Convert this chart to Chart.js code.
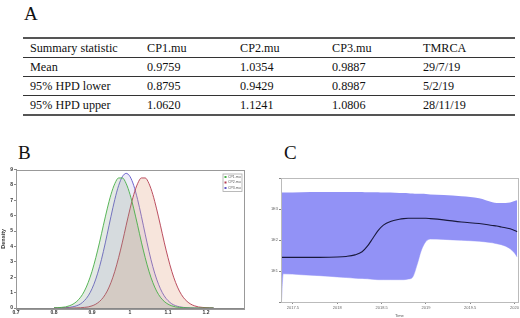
<!DOCTYPE html>
<html><head><meta charset="utf-8">
<script src="https://cdn.jsdelivr.net/npm/chart.js@4/dist/chart.umd.min.js"></script>
<style>
html,body{margin:0;padding:0;background:#fff;}
body{width:520px;height:318px;position:relative;overflow:hidden;color:#111;}
.serif{font-family:"Liberation Serif","Times New Roman",Times,Tinos,"DejaVu Serif",serif;}
.lbl{position:absolute;font-size:19px;line-height:19px;}
#tbl{position:absolute;left:23px;top:37px;width:492px;border-top:2px solid #555;border-bottom:2px solid #555;}
.row{display:flex;height:18px;line-height:18px;border-bottom:1px solid #333;font-size:12.2px;}
.row:last-child{border-bottom:none;}
.cell{box-sizing:border-box;padding-left:7px;white-space:nowrap;}
.box{position:absolute;}
</style></head>
<body>
<div class="lbl serif" style="left:24px;top:4px;">A</div>
<div class="lbl serif" style="left:18px;top:143px;">B</div>
<div class="lbl serif" style="left:284px;top:143px;">C</div>
<div id="tbl" class="serif"></div>
<div class="box" style="left:0;top:165px;width:250px;height:153px;"><canvas id="cB"></canvas></div>
<div class="box" style="left:262px;top:170px;width:258px;height:148px;"><canvas id="cC"></canvas></div>
<script>
// ---------- Panel A table ----------
const tableHeader = ["Summary statistic", "CP1.mu", "CP2.mu", "CP3.mu", "TMRCA"];
const rowLabels = ["Mean", "95% HPD lower", "95% HPD upper"];
const cp1Stats = ["0.9759", "0.8795", "1.0620"];
const cp2Stats = ["1.0354", "0.9429", "1.1241"];
const cp3Stats = ["0.9887", "0.8987", "1.0806"];
const tmrcaStats = ["29/7/19", "5/2/19", "28/11/19"];

// ---------- Panel B density ----------
const densityX = [0.80,0.81,0.82,0.83,0.84,0.85,0.86,0.87,0.88,0.89,0.90,0.91,0.92,0.93,0.94,0.95,0.96,0.97,0.98,0.99,1.00,1.01,1.02,1.03,1.04,1.05,1.06,1.07,1.08,1.09,1.10,1.11,1.12,1.13,1.14,1.15,1.16,1.17,1.18,1.19,1.20,1.21,1.22];
const cp1Density = [0.01,0.02,0.04,0.07,0.14,0.25,0.43,0.70,1.10,1.66,2.38,3.27,4.28,5.38,6.44,7.38,8.08,8.45,8.45,8.08,7.38,6.44,5.38,4.28,3.27,2.38,1.66,1.10,0.70,0.43,0.25,0.14,0.07,0.04,0.02,0.01,0,0,0,0,0,0,0];
const cp2Density = [0,0,0,0,0,0,0.01,0.02,0.04,0.07,0.14,0.25,0.43,0.70,1.10,1.66,2.38,3.27,4.28,5.38,6.44,7.38,8.08,8.45,8.45,8.08,7.38,6.44,5.38,4.28,3.27,2.38,1.66,1.10,0.70,0.43,0.25,0.14,0.07,0.04,0.02,0.01,0];
const cp3Density = [0,0,0.01,0.02,0.04,0.08,0.15,0.27,0.48,0.79,1.25,1.88,2.69,3.68,4.80,5.96,7.05,7.95,8.54,8.75,8.54,7.95,7.05,5.96,4.80,3.68,2.69,1.88,1.25,0.79,0.48,0.27,0.15,0.08,0.04,0.02,0.01,0,0,0,0,0,0];
const densityLabels = ["CP1.mu", "CP2.mu", "CP3.mu"];
const densityXTicks = [0.7, 0.8, 0.9, 1.0, 1.1, 1.2];

// ---------- Panel C skyline ----------
const skyYears = [2017.37,2017.39,2017.6,2017.8,2018.0,2018.1,2018.2,2018.28,2018.34,2018.4,2018.46,2018.52,2018.6,2018.7,2018.75,2018.8,2018.85,2018.9,2018.95,2019.0,2019.05,2019.2,2019.4,2019.6,2019.75,2019.8,2019.85,2019.95,2020.0,2020.03];
const skyMedian = [1.44,1.44,1.44,1.44,1.45,1.47,1.52,1.62,1.80,2.05,2.30,2.48,2.60,2.67,2.69,2.70,2.70,2.70,2.70,2.70,2.69,2.65,2.58,2.53,2.47,2.45,2.42,2.36,2.31,2.27];
const skyUpper = [3.53,3.53,3.54,3.55,3.55,3.55,3.55,3.55,3.54,3.54,3.54,3.53,3.53,3.52,3.52,3.51,3.50,3.49,3.49,3.48,3.47,3.45,3.41,3.35,3.22,3.19,3.19,3.21,3.26,3.28];
const skyLower = [0.00,0.91,0.88,0.85,0.81,0.79,0.77,0.76,0.75,0.73,0.72,0.72,0.72,0.72,0.72,0.74,0.80,1.20,1.68,1.95,2.03,2.02,1.99,1.96,1.91,1.88,1.85,1.72,1.58,1.45];
const skyXTicks = [2017.5, 2018, 2018.5, 2019, 2019.5, 2020];
const skyXTickLabels = ["2017.5", "2018", "2018.5", "2019", "2019.5", "2020"];
const skyYTicks = [0, 1, 2, 3, 4];
const skyYTickLabels = ["", "1E1", "1E2", "1E3", ""];
const skyXTitle = "Time";

// build table
(function(){
  const t = document.getElementById('tbl');
  const widths = [117, 93, 92, 91, 99];
  const rows = [tableHeader].concat(rowLabels.map((r,i)=>[r, cp1Stats[i], cp2Stats[i], cp3Stats[i], tmrcaStats[i]]));
  rows.forEach(r=>{
    const d = document.createElement('div'); d.className='row';
    r.forEach((c,j)=>{const s=document.createElement('div'); s.className='cell'; s.style.width=widths[j]+'px'; s.textContent=c; d.appendChild(s);});
    t.appendChild(d);
  });
})();

const frame = {
  id:'frame',
  afterDraw(chart, args, opts){
    const a = chart.chartArea, ctx = chart.ctx;
    ctx.save(); ctx.strokeStyle = opts.color || '#999'; ctx.lineWidth = 1;
    ctx.strokeRect(Math.round(a.left)+0.5, Math.round(a.top)+0.5, Math.round(a.right-a.left), Math.round(a.bottom-a.top));
    ctx.restore();
  }
};

const boxLegend = {
  id:'boxLegend',
  afterDraw(chart){
    const a = chart.chartArea, ctx = chart.ctx;
    const w = 19, h = 17.5, x = a.right - 2.5 - w, y = a.top + 4;
    ctx.save();
    ctx.fillStyle = '#fff'; ctx.fillRect(x, y, w, h);
    ctx.strokeStyle = '#aaa'; ctx.lineWidth = 0.8; ctx.strokeRect(x+0.5, y+0.5, w, h);
    ctx.font = '3.5px "Liberation Sans", Arial, sans-serif'; ctx.textBaseline = 'middle';
    chart.data.datasets.forEach((ds, i)=>{
      const cy = y + 3.5 + i*5.5;
      ctx.fillStyle = ds.borderColor; ctx.fillRect(x+2, cy-1, 2, 2);
      ctx.fillStyle = '#555'; ctx.fillText(ds.label, x+5.5, cy);
    });
    ctx.restore();
  }
};

const tickFontB = {family:'"Liberation Sans", Arial, sans-serif', size:5, weight:'bold'};
const mk = (ys)=>densityX.map((x,i)=>({x, y: ys[i]}));
new Chart(document.getElementById('cB'), {
  type:'line',
  data:{datasets:[
    {label:densityLabels[0], data:mk(cp1Density), borderColor:'rgb(70,175,70)', backgroundColor:'rgba(130,160,130,0.22)', fill:'origin', borderWidth:0.9, pointRadius:0, cubicInterpolationMode:'monotone'},
    {label:densityLabels[1], data:mk(cp2Density), borderColor:'rgb(180,60,80)', backgroundColor:'rgba(225,160,130,0.28)', fill:'origin', borderWidth:0.9, pointRadius:0, cubicInterpolationMode:'monotone'},
    {label:densityLabels[2], data:mk(cp3Density), borderColor:'rgb(95,85,200)', backgroundColor:'rgba(150,140,210,0.16)', fill:'origin', borderWidth:0.9, pointRadius:0, cubicInterpolationMode:'monotone'}
  ]},
  options:{
    responsive:true, maintainAspectRatio:false, animation:false, devicePixelRatio:1,
    layout:{padding:{top:4.5, right:6, left:0, bottom:0}},
    plugins:{legend:{display:false}, tooltip:{enabled:false}, frame:{color:'#999'}},
    scales:{
      x:{type:'linear', min:0.7, max:1.3,
         afterBuildTicks(s){ s.ticks = densityXTicks.map(v=>({value:v})); },
         afterFit(s){ s.height = 10; },
         ticks:{font:tickFontB, color:'#333', padding:0, maxRotation:0, autoSkip:false, callback:(v)=>String(+v.toFixed(1))},
         grid:{drawOnChartArea:false, tickLength:2, color:'#888'}, border:{color:'#888'}},
      y:{type:'linear', min:0, max:9,
         ticks:{stepSize:1, font:tickFontB, color:'#333', padding:1},
         afterFit(s){ s.width = 16; },
         title:{display:true, text:'Density', font:{family:'"Liberation Sans", Arial, sans-serif', size:5.5, weight:'bold'}, color:'#333', padding:{top:0,bottom:1}},
         grid:{drawOnChartArea:false, tickLength:2, color:'#888'}, border:{color:'#888'}}
    }
  },
  plugins:[frame, boxLegend]
});

const tickFontC = {family:'"Liberation Sans", Arial, sans-serif', size:4};
const mkC = (ys)=>skyYears.map((x,i)=>({x, y: ys[i]}));
new Chart(document.getElementById('cC'), {
  type:'line',
  data:{datasets:[
    {label:'median', order:0, data:mkC(skyMedian), borderColor:'rgb(25,25,60)', borderWidth:1.1, fill:false, pointRadius:0, cubicInterpolationMode:'monotone'},
    {label:'upper', order:1, data:mkC(skyUpper), borderColor:'rgba(0,0,0,0)', borderWidth:0, backgroundColor:'rgb(146,146,246)', fill:'+1', pointRadius:0, cubicInterpolationMode:'monotone'},
    {label:'lower', order:2, data:mkC(skyLower), borderColor:'rgb(146,146,246)', borderWidth:0.5, fill:false, pointRadius:0, cubicInterpolationMode:'monotone'}
  ]},
  options:{
    responsive:true, maintainAspectRatio:false, animation:false, devicePixelRatio:1,
    layout:{padding:{top:8, right:1, left:0, bottom:0}},
    plugins:{legend:{display:false}, tooltip:{enabled:false}, frame:{color:'#bbb'}},
    scales:{
      x:{type:'linear', min:2017.365, max:2020.035,
         afterBuildTicks(s){ s.ticks = skyXTicks.map(v=>({value:v})); },
         afterFit(s){ s.height = 16; },
         ticks:{font:tickFontC, color:'#666', padding:1, maxRotation:0, autoSkip:false, callback:(v,i)=>skyXTickLabels[i]},
         title:{display:true, text:skyXTitle, font:tickFontC, color:'#555', padding:{top:0,bottom:0}},
         grid:{drawOnChartArea:false, tickLength:2, color:'#888'}, border:{color:'#888'}},
      y:{type:'linear', min:0, max:4,
         afterBuildTicks(s){ s.ticks = skyYTicks.map(v=>({value:v})); },
         afterFit(s){ s.width = 19; },
         ticks:{font:tickFontC, color:'#666', padding:1, callback:(v,i)=>skyYTickLabels[i]},
         grid:{drawOnChartArea:false, tickLength:2, color:'#888'}, border:{color:'#777'}}
    }
  },
  plugins:[frame]
});
</script>
</body></html>
